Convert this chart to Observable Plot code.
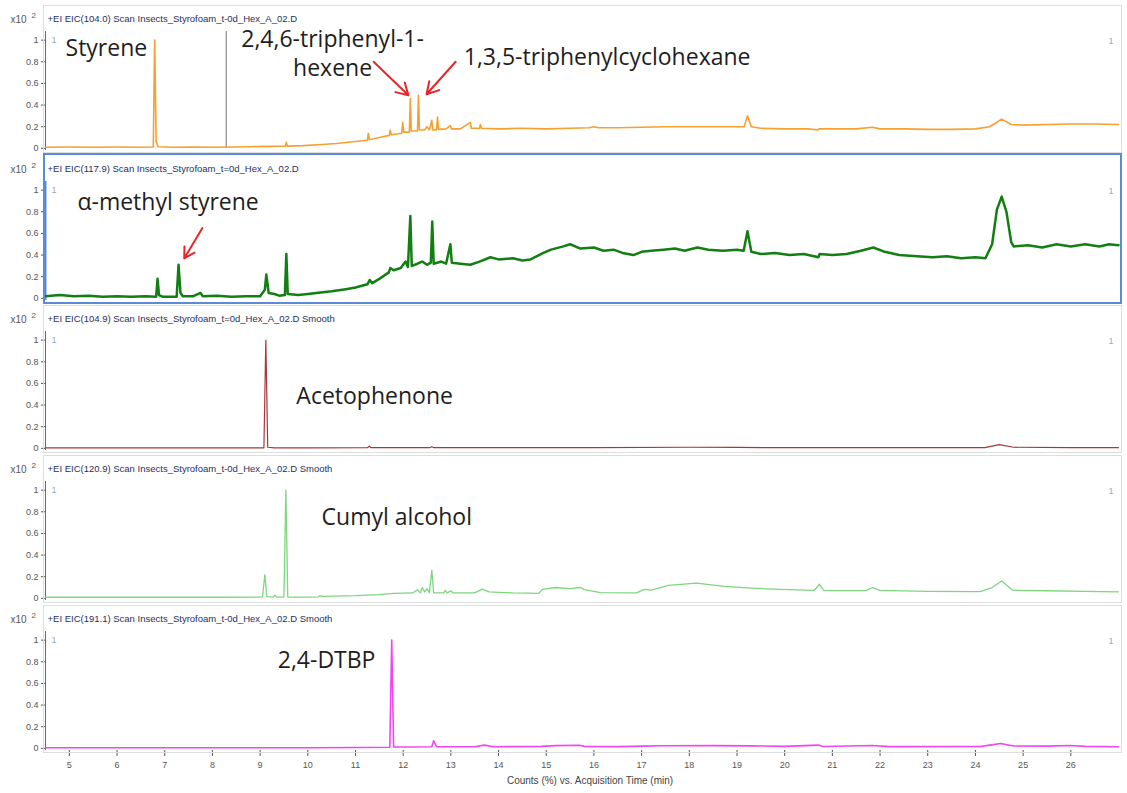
<!DOCTYPE html>
<html><head><meta charset="utf-8">
<script src="https://cdn.jsdelivr.net/npm/d3@7"></script>
<script src="https://cdn.jsdelivr.net/npm/@observablehq/plot@0.6"></script>
<style>
body{margin:0;background:#fff;font-family:"Liberation Sans",Arial,sans-serif;}
#root{width:1127px;}
.panel{position:relative;width:1127px;}
.panel svg{display:block;overflow:visible;}
.box{position:absolute;left:43px;top:5px;width:1077px;height:146px;border:1px solid #dedede;pointer-events:none;}
.box.sel{left:43px;top:3px;width:1075px;height:147px;border:2px solid #5b8bd8;}
</style>
</head><body><div id="root"></div>
<script>
// ---------- DATA ----------
const headers = [
  "+EI EIC(104.0) Scan Insects_Styrofoam_t-0d_Hex_A_02.D",
  "+EI EIC(117.9) Scan Insects_Styrofoam_t=0d_Hex_A_02.D",
  "+EI EIC(104.9) Scan Insects_Styrofoam_t=0d_Hex_A_02.D Smooth",
  "+EI EIC(120.9) Scan Insects_Styrofoam_t-0d_Hex_A_02.D Smooth",
  "+EI EIC(191.1) Scan Insects_Styrofoam_t-0d_Hex_A_02.D Smooth"
];
const xTicks = [5,6,7,8,9,10,11,12,13,14,15,16,17,18,19,20,21,22,23,24,25,26];
const yTicks = [0,0.2,0.4,0.6,0.8,1];
const xTitle = "Counts (%) vs. Acquisition Time (min)";
const cursorTime = [8.29];

// Panel 1: EIC 104.0 (styrene)
const styreneTime  = [4.5,5.0,5.5,6.0,6.5,6.76,6.79,6.82,6.86,7.2,7.6,8.0,8.4,8.8,9.2,9.53,9.55,9.57,9.9,10.3,10.6,10.9,11.25,11.27,11.29,11.5,11.71,11.73,11.75,11.97,11.99,12.01,12.13,12.15,12.17,12.3,12.32,12.34,12.45,12.5,12.55,12.6,12.62,12.7,12.72,12.74,12.9,12.99,13.01,13.2,13.41,13.43,13.6,13.62,13.64,14.0,14.5,15.0,15.5,15.9,16.0,16.1,16.5,17.0,17.5,18.0,18.5,19.0,19.15,19.22,19.3,19.5,20.0,20.5,20.7,20.72,21.0,21.5,21.84,22.0,22.5,23.0,23.5,24.0,24.3,24.55,24.75,25.0,25.5,26.0,26.5,27.0];
const styreneValue = [0.01,0.012,0.01,0.012,0.01,0.012,1.0,0.06,0.015,0.01,0.012,0.01,0.012,0.015,0.018,0.02,0.055,0.02,0.025,0.035,0.045,0.058,0.075,0.14,0.08,0.1,0.12,0.17,0.125,0.14,0.24,0.15,0.15,0.46,0.16,0.16,0.49,0.17,0.17,0.2,0.17,0.26,0.17,0.17,0.29,0.175,0.18,0.21,0.18,0.18,0.24,0.185,0.185,0.22,0.185,0.18,0.185,0.18,0.185,0.19,0.2,0.19,0.19,0.195,0.2,0.2,0.2,0.2,0.2,0.3,0.2,0.185,0.18,0.18,0.17,0.18,0.18,0.18,0.195,0.18,0.18,0.175,0.175,0.18,0.2,0.27,0.22,0.215,0.22,0.225,0.225,0.22];

// Panel 2: EIC 117.9 (alpha-methyl styrene)
const amsTime  = [4.5,4.8,5.1,5.4,5.7,6.0,6.3,6.6,6.82,6.85,6.88,6.95,7.25,7.29,7.33,7.38,7.6,7.75,7.8,8.1,8.4,8.7,9.0,9.1,9.13,9.18,9.3,9.4,9.52,9.55,9.58,9.8,10.0,10.27,10.5,10.8,11.0,11.25,11.3,11.35,11.5,11.7,11.73,11.8,11.95,12.05,12.1,12.15,12.18,12.3,12.4,12.5,12.58,12.61,12.64,12.8,12.9,12.99,13.02,13.2,13.41,13.6,13.83,14.0,14.3,14.5,14.67,14.94,15.1,15.36,15.5,15.72,16.0,16.2,16.41,16.6,16.83,17.0,17.2,17.46,17.7,17.9,18.17,18.4,18.7,19.0,19.14,19.22,19.3,19.5,19.8,20.1,20.4,20.71,20.73,21.0,21.3,21.6,21.86,22.1,22.4,22.78,23.1,23.4,23.7,24.0,24.21,24.35,24.45,24.55,24.65,24.75,24.8,25.1,25.4,25.7,26.0,26.3,26.6,26.8,27.0];
const amsValue = [0.02,0.03,0.02,0.025,0.015,0.02,0.015,0.02,0.015,0.18,0.03,0.015,0.015,0.31,0.05,0.02,0.02,0.05,0.02,0.025,0.015,0.02,0.02,0.08,0.22,0.05,0.04,0.025,0.03,0.41,0.04,0.03,0.04,0.055,0.065,0.085,0.1,0.13,0.17,0.14,0.18,0.24,0.28,0.26,0.28,0.34,0.29,0.76,0.3,0.32,0.34,0.31,0.33,0.71,0.32,0.34,0.32,0.5,0.33,0.32,0.31,0.34,0.38,0.36,0.37,0.35,0.36,0.42,0.45,0.48,0.5,0.46,0.47,0.44,0.45,0.42,0.4,0.43,0.44,0.45,0.46,0.44,0.47,0.45,0.44,0.45,0.44,0.62,0.43,0.41,0.42,0.4,0.41,0.38,0.41,0.4,0.41,0.44,0.47,0.43,0.4,0.39,0.38,0.39,0.37,0.38,0.37,0.5,0.82,0.94,0.8,0.52,0.48,0.49,0.47,0.5,0.48,0.5,0.48,0.5,0.49];

// Panel 3: EIC 104.9 (acetophenone)
const acetoTime  = [4.5,6.0,8.0,9.08,9.12,9.16,9.3,10.0,11.25,11.29,11.33,12.55,12.6,12.65,14.0,16.0,18.0,19.0,20.0,22.0,24.2,24.5,24.8,26.0,27.0];
const acetoValue = [0.004,0.004,0.004,0.005,1.0,0.01,0.005,0.005,0.006,0.02,0.006,0.006,0.015,0.006,0.006,0.006,0.01,0.008,0.006,0.006,0.007,0.035,0.01,0.006,0.006];

// Panel 4: EIC 120.9 (cumyl alcohol)
const cumylTime  = [4.5,6.0,8.0,9.05,9.1,9.14,9.28,9.31,9.34,9.5,9.54,9.58,10.0,10.22,10.25,10.3,11.0,11.5,11.8,12.2,12.3,12.36,12.4,12.45,12.5,12.55,12.6,12.64,12.85,12.88,12.92,13.0,13.05,13.5,13.66,13.8,14.3,14.84,14.92,15.2,15.5,15.72,15.8,16.14,16.89,17.06,17.2,17.56,18.15,18.74,19.3,19.91,20.62,20.73,20.82,21.7,21.84,22.0,23.0,24.1,24.35,24.55,24.78,25.5,26.3,27.0];
const cumylValue = [0.01,0.01,0.01,0.012,0.22,0.015,0.012,0.03,0.012,0.012,1.0,0.012,0.012,0.013,0.025,0.018,0.025,0.035,0.045,0.05,0.08,0.05,0.1,0.06,0.09,0.05,0.26,0.05,0.05,0.075,0.05,0.07,0.05,0.05,0.085,0.06,0.05,0.045,0.083,0.1,0.09,0.1,0.08,0.052,0.05,0.083,0.075,0.12,0.14,0.11,0.095,0.083,0.074,0.13,0.072,0.072,0.1,0.074,0.065,0.062,0.1,0.16,0.074,0.07,0.065,0.06];

// Panel 5: EIC 191.1 (2,4-DTBP)
const dtbpTime  = [4.5,8.0,10.0,11.0,11.72,11.76,11.8,12.2,12.6,12.64,12.7,13.5,13.7,13.9,14.9,15.2,15.7,15.8,16.5,17.06,17.4,18.5,19.3,20.0,20.71,20.8,21.84,22.2,24.1,24.3,24.53,24.8,25.5,25.99,26.3,27.0];
const dtbpValue = [0.005,0.005,0.006,0.008,0.01,1.0,0.012,0.012,0.015,0.07,0.015,0.015,0.03,0.015,0.018,0.025,0.028,0.018,0.016,0.02,0.024,0.025,0.023,0.018,0.03,0.017,0.026,0.016,0.017,0.03,0.045,0.022,0.02,0.026,0.018,0.015];

// Annotations (data coordinates: time, relative abundance)
const labelText  = ["Styrene","2,4,6-triphenyl-1-\nhexene","1,3,5-triphenylcyclohexane","α-methyl styrene","Acetophenone","Cumyl alcohol","2,4-DTBP"];
const labelPanel = [0,0,0,1,2,3,4];
const labelTime  = [4.92,10.52,13.27,5.17,9.76,10.29,9.37];
const labelValue = [0.85,0.667,0.77,0.82,0.41,0.68,0.74];
const labelCentered = [false,true,false,false,false,false,false];

const arrowPanel = [0,0,1];
const arrowFromTime  = [11.38,13.10,7.79];
const arrowFromValue = [0.80,0.80,0.65];
const arrowToTime    = [12.11,12.49,7.41];
const arrowToValue   = [0.49,0.50,0.37];

// ---------- STYLE ----------
const series = [
  {t: styreneTime, v: styreneValue, color: "#f7a030", width: 1.6},
  {t: amsTime,     v: amsValue,     color: "#127f12", width: 2.5},
  {t: acetoTime,   v: acetoValue,   color: "#a8363a", width: 1.2},
  {t: cumylTime,   v: cumylValue,   color: "#7ed67e", width: 1.3},
  {t: dtbpTime,    v: dtbpValue,    color: "#f245f2", width: 1.6}
];

const labels = labelText.map((s,i)=>({s, p: labelPanel[i], t: labelTime[i], v: labelValue[i], c: labelCentered[i]}));
const arrows = arrowPanel.map((p,i)=>({p, t1: arrowFromTime[i], v1: arrowFromValue[i], t2: arrowToTime[i], v2: arrowToValue[i]}));
const labelStyle = {x: "t", y: "v", text: "s", lineAnchor: "bottom", lineHeight: 1.27, fontSize: 23, fontFamily: "Open Sans", fill: "#1e1e1e"};

const root = document.getElementById("root");
series.forEach((s, k) => {
  const last = k === series.length - 1;
  const rows = s.t.map((t,i)=>({t, v: s.v[i]}));
  const marks = [
    Plot.ruleX([4.5], {stroke: k === 1 ? "#5b8bd8" : "#6a6a6a", strokeWidth: k === 1 ? 2 : 1}),
    Plot.axisY({ticks: yTicks, tickSize: 4, tickPadding: 3, fontSize: 9, tickFormat: d => String(d), label: null}),
    Plot.text([headers[k]], {frameAnchor: "top-left", dx: 2, dy: -16, textAnchor: "start", fontSize: 9.5, fill: "#26305a", text: d => d}),
    Plot.text(["x10"], {frameAnchor: "top-left", dx: -35, dy: -16, textAnchor: "start", fontSize: 10, fill: "#555", text: d => d}),
    Plot.text(["2"], {frameAnchor: "top-left", dx: -14, dy: -19, textAnchor: "start", fontSize: 8, fill: "#555", text: d => d}),
    Plot.text(["1"], {frameAnchor: "top-left", dx: 6, dy: 5, fontSize: 9, fill: "#9aa6c6", text: d => d}),
    Plot.text(["1"], {frameAnchor: "top-right", dx: -5, dy: 6, fontSize: 9, fill: "#9aa6c6", text: d => d}),
  ];
  if (k === 0) marks.push(Plot.ruleX(cursorTime, {y1: 0, y2: 1.08, stroke: "#8a8a8a", strokeWidth: 1.2}));
  marks.push(Plot.line(rows, {x: "t", y: "v", stroke: s.color, strokeWidth: s.width, strokeLinejoin: "round"}));
  const lk = labels.filter(d => d.p === k);
  marks.push(Plot.text(lk.filter(d => !d.c), {...labelStyle, textAnchor: "start"}));
  marks.push(Plot.text(lk.filter(d => d.c), {...labelStyle, textAnchor: "middle"}));
  const ar = arrows.filter(d => d.p === k);
  if (ar.length) marks.push(Plot.arrow(ar, {x1: "t1", y1: "v1", x2: "t2", y2: "v2", stroke: "#e8262a", strokeWidth: 2, headLength: 10}));
  if (last) {
    marks.push(Plot.axisX({ticks: xTicks, tickSize: 6, tickPadding: 5, fontSize: 9, label: null, tickFormat: d => String(d)}));
    marks.push(Plot.text([xTitle], {frameAnchor: "bottom", dx: 8, dy: 33, fontSize: 10, fill: "#444", text: d => d}));
  }
  const chart = Plot.plot({
    width: 1127, height: last ? 193 : 150,
    marginLeft: 45, marginRight: 9, marginTop: 31, marginBottom: last ? 43 : 0,
    x: {domain: [4.5, 27], axis: last ? undefined : null},
    y: {domain: [-0.02, 1.08]},
    style: {fontFamily: "Liberation Sans, Arial, sans-serif", color: "#555", background: "transparent", overflow: "visible"},
    marks
  });
  const wrap = document.createElement("div");
  wrap.className = "panel";
  wrap.appendChild(chart);
  const box = document.createElement("div");
  box.className = k === 1 ? "box sel" : "box";
  wrap.appendChild(box);
  root.appendChild(wrap);
});
</script>
</body></html>
